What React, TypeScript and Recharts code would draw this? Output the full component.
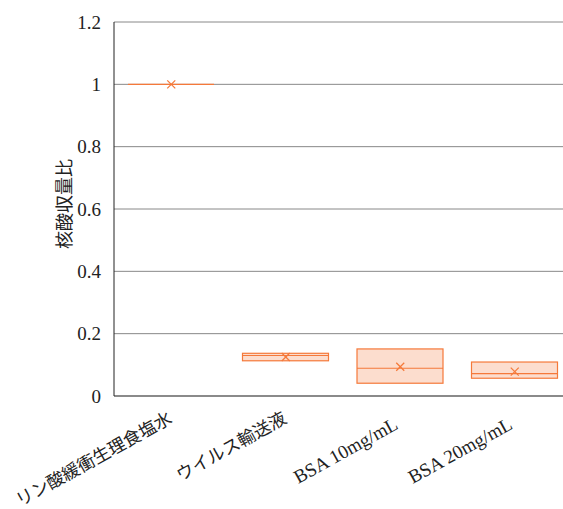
import { Bar, CartesianGrid, ComposedChart, Scatter, XAxis, YAxis } from "recharts";

const categories = ["リン酸緩衝生理食塩水", "ウイルス輸送液", "BSA 10mg/mL", "BSA 20mg/mL"];
const q1 = [1.0, 0.113, 0.041, 0.057];
const median = [1.0, 0.13, 0.089, 0.072];
const q3 = [1.0, 0.137, 0.151, 0.109];
const mean = [1.0, 0.125, 0.094, 0.078];
const yTicks = [0, 0.2, 0.4, 0.6, 0.8, 1, 1.2];

const orange = "#f5793a";
const serif = "'Liberation Serif', 'Noto Sans CJK JP', serif";

const data = categories.map((name, i) => ({
  name,
  base: q1[i],
  box: q3[i] - q1[i],
  q1: q1[i],
  median: median[i],
  q3: q3[i],
  mean: mean[i],
}));

function BoxShape(props: any) {
  const { x, y, width, height, payload } = props;
  const range = payload.q3 - payload.q1;
  const my = range > 0 ? y + (height * (payload.q3 - payload.median)) / range : y;
  return (
    <g>
      {range > 0 && (
        <rect x={x} y={y} width={width} height={height} fill={orange} fillOpacity={0.25} stroke={orange} strokeWidth={1.2} />
      )}
      <line x1={x} x2={x + width} y1={my} y2={my} stroke={orange} strokeWidth={1.2} />
    </g>
  );
}

function MeanMark(props: any) {
  const { cx, cy } = props;
  const s = 4;
  return (
    <g stroke={orange} strokeWidth={1.2}>
      <line x1={cx - s} y1={cy - s} x2={cx + s} y2={cy + s} />
      <line x1={cx - s} y1={cy + s} x2={cx + s} y2={cy - s} />
    </g>
  );
}

function XTick(props: any) {
  const { x, y, payload } = props;
  const cjk = /[\u3000-\u9fff]/.test(payload.value);
  const tx = cjk ? x + 2 : x - 1;
  const ty = cjk ? y + 18 : y + 24;
  return (
    <text
      x={tx}
      y={ty}
      transform={`rotate(-29 ${tx} ${ty})`}
      textAnchor="end"
      fontSize={cjk ? 17.5 : 19}
      fontFamily={serif}
      fill="#222"
    >
      {payload.value}
    </text>
  );
}

function YTick(props: any) {
  const { x, y, payload } = props;
  return (
    <text x={x} y={y} dy="0.35em" textAnchor="end" fontSize={19} fontFamily={serif} fill="#222">
      {payload.value}
    </text>
  );
}

export default function App() {
  return (
    <div style={{ position: "fixed", left: 0, top: 0, width: 563, height: 509, overflow: "hidden", background: "#fff" }}>
      <ComposedChart width={580} height={509} data={data} margin={{ top: 22, right: 8, left: 0, bottom: 0 }} barSize={86}>
        <CartesianGrid vertical={false} stroke="#888" strokeWidth={1} />
        <XAxis
          dataKey="name"
          height={113}
          tickLine={false}
          axisLine={{ stroke: "#777", strokeWidth: 1.5 }}
          tick={<XTick />}
          interval={0}
        />
        <YAxis
          width={114}
          domain={[0, 1.2]}
          ticks={yTicks}
          tickLine={false}
          axisLine={{ stroke: "#222", strokeWidth: 1 }}
          tickMargin={7}
          tick={<YTick />}
          label={(p: any) => {
            const vb = p.viewBox;
            const cy = vb.y + vb.height / 2 - 5;
            return (
              <text
                x={63}
                y={cy}
                transform={`rotate(-90 63 ${cy})`}
                textAnchor="middle"
                dominantBaseline="central"
                fontSize={18}
                fontFamily="'Noto Sans CJK JP', sans-serif"
                fill="#222"
              >
                核酸収量比
              </text>
            );
          }}
        />
        <Bar dataKey="base" stackId="b" fill="none" isAnimationActive={false} />
        <Bar dataKey="box" stackId="b" shape={<BoxShape />} isAnimationActive={false} />
        <Scatter dataKey="mean" shape={<MeanMark />} isAnimationActive={false} />
      </ComposedChart>
    </div>
  );
}
